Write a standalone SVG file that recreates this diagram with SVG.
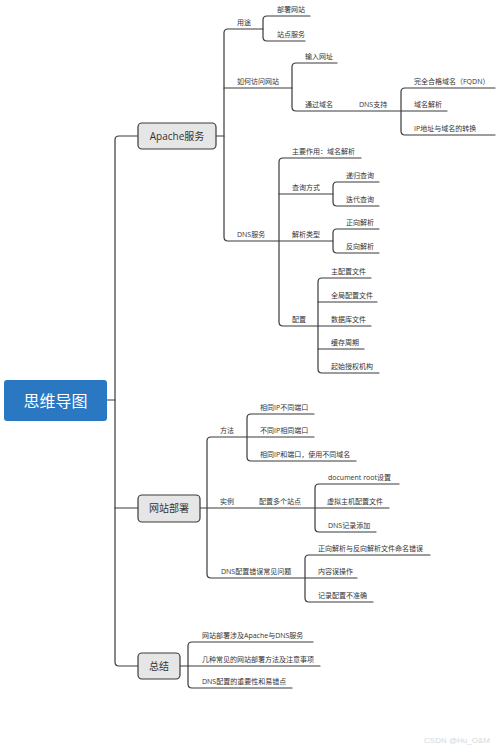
<svg xmlns="http://www.w3.org/2000/svg" width="500" height="748" viewBox="0 0 500 748">
<style>
.c{fill:none;stroke:#3a3a3a;stroke-width:1.2;stroke-linecap:round}
.t{font-family:"Open Sans","Noto Sans CJK SC",sans-serif;font-size:7px;fill:#333}
.n rect{fill:#e6e6e6;stroke:#3a3a3a;stroke-width:1.2}
.n text{font-family:"Open Sans","Noto Sans CJK SC",sans-serif;font-size:10px;fill:#333;text-anchor:middle}
</style>
<rect width="500" height="748" fill="#fff"/>
<g id="connectors" class="c">
<!-- trunk -->
<path d="M107,400 H115"/>
<path d="M138,136 H119 Q115,136 115,140 V662 Q115,666 119,666 H138"/>
<path d="M115,508 H138"/>
<!-- Apache -->
<path d="M216,136 H224"/>
<path d="M263,29 H228 Q224,29 224,33 V237 Q224,241 228,241 H333"/>
<path d="M224,88 H292"/>
<path d="M310,16 H267 Q263,16 263,20 V37 Q263,41 267,41 H305"/>
<path d="M337,63 H296 Q292,63 292,67 V107 Q292,111 296,111 H447"/>
<path d="M495,88 H405 Q401,88 401,92 V131 Q401,135 405,135 H495"/>
<!-- DNS服务 -->
<path d="M361,158 H283 Q279,158 279,162 V322 Q279,326 283,326 H371"/>
<path d="M279,194 H333"/>
<path d="M379,182 H337 Q333,182 333,186 V202 Q333,206 337,206 H379"/>
<path d="M379,229 H337 Q333,229 333,233 V249 Q333,253 337,253 H379"/>
<path d="M371,278 H322 Q318,278 318,282 V369 Q318,373 322,373 H379"/>
<path d="M318,302 H377"/>
<path d="M318,349 H364"/>
<!-- 网站部署 -->
<path d="M200,508 H389"/>
<path d="M314,437 H211 Q207,437 207,441 V574 Q207,578 211,578 H357"/>
<path d="M314,414 H251 Q247,414 247,418 V457 Q247,461 251,461 H356"/>
<path d="M399,484 H319 Q315,484 315,488 V528 Q315,532 319,532 H376"/>
<path d="M430,555 H309 Q305,555 305,559 V598 Q305,602 309,602 H373"/>
<!-- 总结 -->
<path d="M180,666 H320"/>
<path d="M313,642 H192 Q188,642 188,646 V684 Q188,688 192,688 H292"/>
</g>
<g id="root">
<rect x="4" y="380" width="103" height="41" rx="3" fill="#2b78c2"/>
<text x="55.5" y="406.5" text-anchor="middle" font-family="'Open Sans','Noto Sans CJK SC',sans-serif" font-size="16" fill="#fff">思维导图</text>
</g>
<g id="apache" class="n"><rect x="138" y="123" width="78" height="26" rx="4"/><text x="177" y="139.5">Apache服务</text></g>
<g id="deploy" class="n"><rect x="138" y="495" width="62" height="27" rx="4"/><text x="169" y="511.5">网站部署</text></g>
<g id="summary" class="n"><rect x="138" y="653" width="42" height="26" rx="4"/><text x="159" y="669.5">总结</text></g>
<g id="labels" class="t">
<text x="237" y="24.5">用途</text>
<text x="277" y="11.5">部署网站</text>
<text x="277" y="36.5">站点服务</text>
<text x="237" y="83.5">如何访问网站</text>
<text x="305" y="58.5">输入网址</text>
<text x="305" y="106.5">通过域名</text>
<text x="359" y="106.5">DNS支持</text>
<text x="414" y="83.5">完全合格域名（FQDN）</text>
<text x="414" y="106.5">域名解析</text>
<text x="414" y="130.5">IP地址与域名的转换</text>
<text x="237" y="236.5">DNS服务</text>
<text x="292" y="153.5">主要作用：域名解析</text>
<text x="292" y="189.5">查询方式</text>
<text x="346" y="177.5">递归查询</text>
<text x="346" y="201.5">迭代查询</text>
<text x="292" y="236.5">解析类型</text>
<text x="346" y="224.5">正向解析</text>
<text x="346" y="248.5">反向解析</text>
<text x="292" y="321.5">配置</text>
<text x="331" y="273.5">主配置文件</text>
<text x="331" y="297.5">全局配置文件</text>
<text x="331" y="321.5">数据库文件</text>
<text x="331" y="344.5">缓存周期</text>
<text x="331" y="368.5">起始授权机构</text>
<text x="220" y="432.5">方法</text>
<text x="260" y="409.5">相同IP不同端口</text>
<text x="260" y="432.5">不同IP相同端口</text>
<text x="260" y="456.5">相同IP和端口，使用不同域名</text>
<text x="220" y="503.5">实例</text>
<text x="259" y="503.5">配置多个站点</text>
<text x="328" y="479.5">document root设置</text>
<text x="327" y="503.5">虚拟主机配置文件</text>
<text x="328" y="527.5">DNS记录添加</text>
<text x="221" y="573.5">DNS配置错误常见问题</text>
<text x="318" y="550.5">正向解析与反向解析文件命名错误</text>
<text x="318" y="573.5">内容误操作</text>
<text x="318" y="597.5">记录配置不准确</text>
<text x="202" y="637.5">网站部署涉及Apache与DNS服务</text>
<text x="202" y="661.5">几种常见的网站部署方法及注意事项</text>
<text x="202" y="683.5">DNS配置的重要性和易错点</text>
</g>
<text x="490" y="743" text-anchor="end" font-family="'Liberation Sans',sans-serif" font-size="8" fill="#d8d8d8">CSDN @Hu_O&amp;M</text>
</svg>
